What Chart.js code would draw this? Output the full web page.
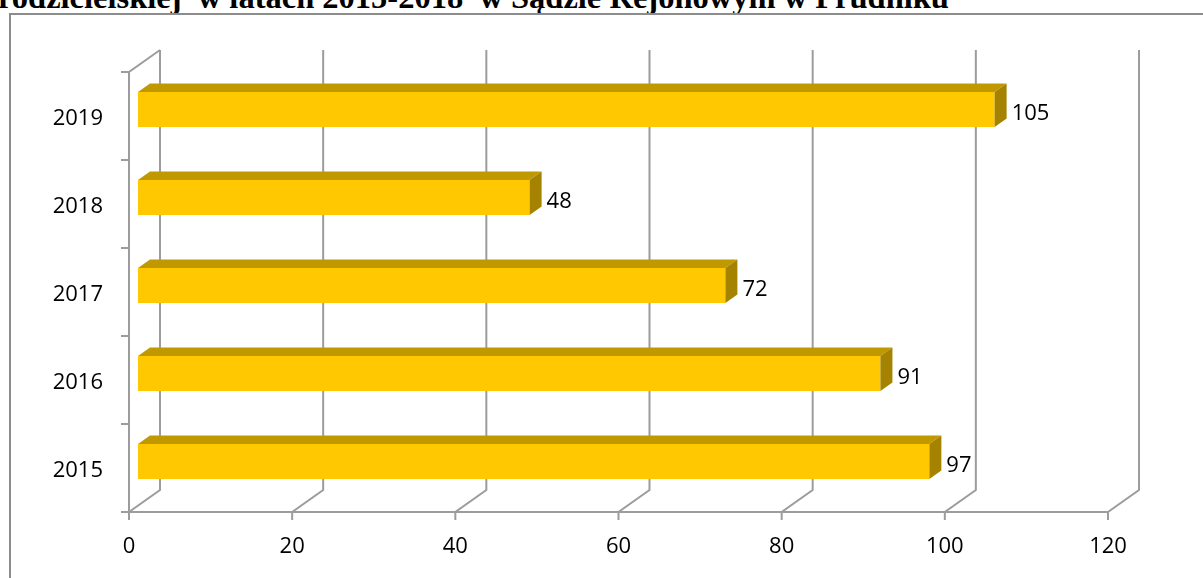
<!DOCTYPE html>
<html lang="pl">
  <head>
    <meta charset="UTF-8" />
    <title>Sprawy rodzicielskie 2015-2019</title>
    <script src="https://cdn.jsdelivr.net/npm/chart.js"></script>
    <style>
      html, body { margin: 0; padding: 0; background: #fff; overflow: hidden; }
      body { width: 1203px; height: 578px; position: relative; }
      #title {
        position: absolute;
        left: -2px;
        top: -19px;
        font: bold 32.5px "Liberation Serif", "Times New Roman", serif;
        line-height: 1;
        white-space: pre;
        color: #000;
      }
      #frame {
        position: absolute;
        left: 9px;
        top: 13px;
        width: 1300px;
        height: 700px;
        border: 2px solid #8c8c8c;
      }
      #chart { position: absolute; left: 0; top: 0; }
    </style>
  </head>
  <body>
    <div id="title">rodzicielskiej  w latach 2015-2018  w Sądzie Rejonowym w Prudniku</div>
    <div id="frame"></div>
    <canvas id="chart" width="1203" height="578"></canvas>

    <script>
      // values
      const years = ["2015", "2016", "2017", "2018", "2019"];
      const cases = [97, 91, 72, 48, 105];
      const xMax = 120;
      const xStep = 20;

      const labelFont = { family: "'Open Sans', sans-serif", size: 22 };

      // 3D look: depth of the wall and of each bar
      const wall = { dx: 31, dy: -22 };
      const barShift = { dx: 9, dy: -6.5 };
      const barDepth = { dx: 12, dy: -8.5 };

      const gridColor = "#9c9c9c";

      const fake3d = {
        id: "fake3d",
        beforeDatasetsDraw(chart) {
          const { ctx, chartArea } = chart;
          const xs = chart.scales.x;
          const ys = chart.scales.y;
          const top = chartArea.top;
          const bottom = chartArea.bottom;
          const left = chartArea.left;

          ctx.save();
          ctx.strokeStyle = gridColor;
          ctx.lineWidth = 2;
          ctx.beginPath();
          // floor front edge
          ctx.moveTo(xs.left, bottom);
          ctx.lineTo(xs.right, bottom);
          // value gridlines on the back wall + floor diagonals
          xs.ticks.forEach((t) => {
            const px = xs.getPixelForValue(t.value);
            ctx.moveTo(px, bottom + 8);
            ctx.lineTo(px, bottom);
            ctx.lineTo(px + wall.dx, bottom + wall.dy);
            ctx.lineTo(px + wall.dx, top + wall.dy);
          });
          // left wall
          ctx.moveTo(left, bottom);
          ctx.lineTo(left, top);
          ctx.lineTo(left + wall.dx, top + wall.dy);
          const band = Math.abs(ys.getPixelForValue(1) - ys.getPixelForValue(0));
          for (let i = 0; i <= years.length; i++) {
            const y = top + i * band;
            ctx.moveTo(left - 8, y);
            ctx.lineTo(left, y);
          }
          ctx.stroke();
          ctx.restore();

          ctx.save();
          ctx.translate(barShift.dx, barShift.dy);
        },
        afterDatasetsDraw(chart) {
          const { ctx } = chart;
          const meta = chart.getDatasetMeta(0);
          meta.data.forEach((bar) => {
            const { x, y, base, height } = bar.getProps(["x", "y", "base", "height"], true);
            const t = y - height / 2;
            const b = y + height / 2;
            // top face
            ctx.fillStyle = "rgb(192,153,0)";
            ctx.beginPath();
            ctx.moveTo(base, t);
            ctx.lineTo(x, t);
            ctx.lineTo(x + barDepth.dx, t + barDepth.dy);
            ctx.lineTo(base + barDepth.dx, t + barDepth.dy);
            ctx.closePath();
            ctx.fill();
            // end face
            ctx.fillStyle = "rgb(165,131,0)";
            ctx.beginPath();
            ctx.moveTo(x, t);
            ctx.lineTo(x + barDepth.dx, t + barDepth.dy);
            ctx.lineTo(x + barDepth.dx, b + barDepth.dy);
            ctx.lineTo(x, b);
            ctx.closePath();
            ctx.fill();
          });
          ctx.restore();

          // value labels
          ctx.save();
          ctx.fillStyle = "#000";
          ctx.font = `${labelFont.size}px ${labelFont.family}`;
          ctx.textAlign = "left";
          ctx.textBaseline = "middle";
          meta.data.forEach((bar, i) => {
            ctx.fillText(String(cases[i]), bar.x + 26, bar.y - 2);
          });
          ctx.restore();
        },
      };

      new Chart(document.getElementById("chart"), {
        type: "bar",
        data: {
          labels: years,
          datasets: [
            {
              data: cases,
              backgroundColor: "rgb(255,200,0)",
              borderWidth: 0,
              categoryPercentage: 1,
              barPercentage: 0.4,
            },
          ],
        },
        options: {
          indexAxis: "y",
          responsive: false,
          animation: false,
          devicePixelRatio: 1,
          layout: { padding: { left: 0, right: 95, top: 72, bottom: 0 } },
          scales: {
            x: {
              min: 0,
              max: xMax,
              ticks: { stepSize: xStep, color: "#000", font: labelFont, padding: 22, maxRotation: 0 },
              grid: { display: false, drawTicks: false },
              border: { display: false },
              afterFit: (s) => { s.height = 66; },
            },
            y: {
              reverse: true,
              ticks: { color: "#000", font: labelFont, padding: 26, labelOffset: 3 },
              grid: { display: false, drawTicks: false },
              border: { display: false },
              afterFit: (s) => { s.width = 129; },
            },
          },
          plugins: {
            legend: { display: false },
            tooltip: { enabled: false },
          },
        },
        plugins: [fake3d],
      });
    </script>
  </body>
</html>
